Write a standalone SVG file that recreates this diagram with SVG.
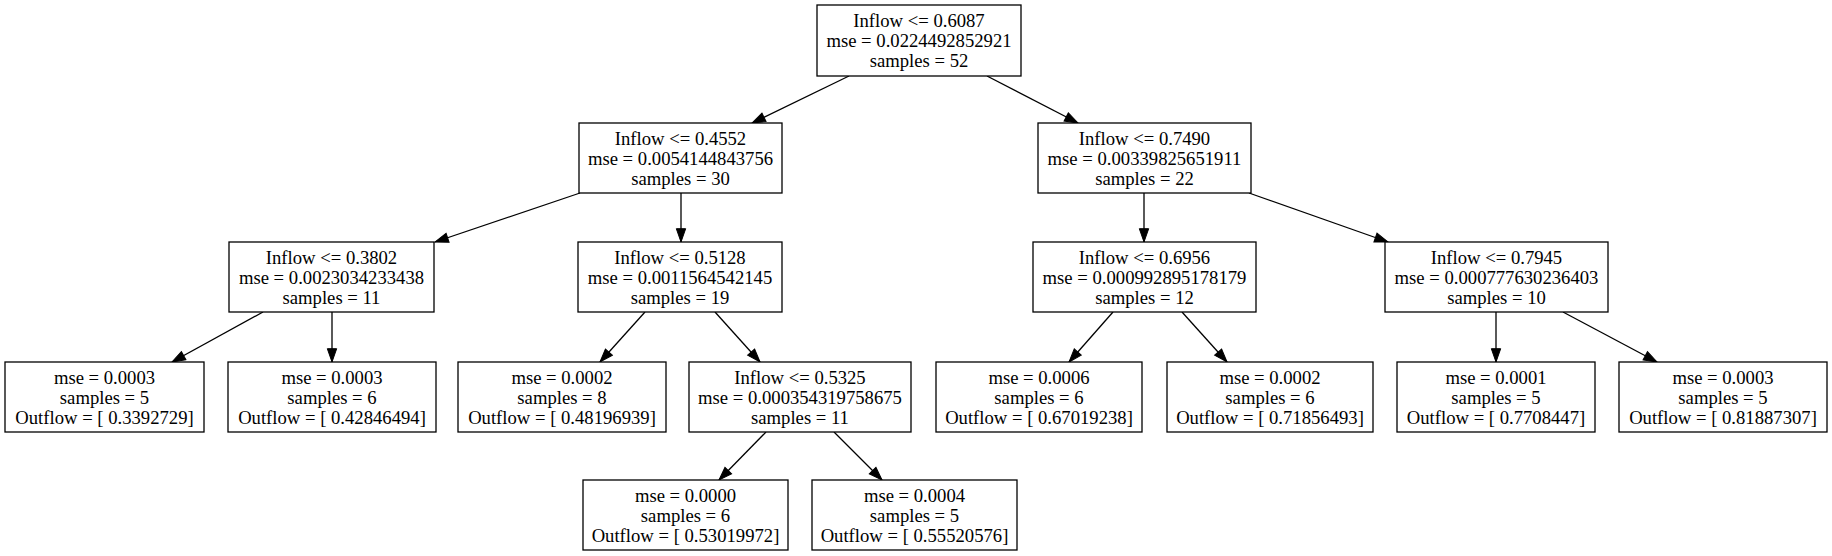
<svg xmlns="http://www.w3.org/2000/svg" width="1832" height="556" viewBox="0 0 1832 556">
<style>
.n rect{fill:#fff;stroke:#000;stroke-width:1.3}
.n text{font-family:"Liberation Serif","Times New Roman",serif;font-size:18.67px;text-anchor:middle;fill:#000}
.e line{stroke:#000;stroke-width:1.3}
</style>
<defs>
<marker id="ah" markerWidth="14" markerHeight="10" refX="13.3" refY="5" orient="auto" markerUnits="userSpaceOnUse" overflow="visible">
<path d="M0,0.33 L13.3,5 L0,9.67 z" fill="#000" stroke="#000" stroke-width="1"/>
</marker>
</defs>
<rect width="1832" height="556" fill="#fff"/>
<g id="edges" class="e">
<line x1="849" y1="76" x2="752" y2="123" marker-end="url(#ah)"/>
<line x1="987" y1="76" x2="1078" y2="123" marker-end="url(#ah)"/>
<line x1="580" y1="193" x2="435" y2="242" marker-end="url(#ah)"/>
<line x1="681" y1="193" x2="681" y2="242" marker-end="url(#ah)"/>
<line x1="1144" y1="193" x2="1144" y2="242" marker-end="url(#ah)"/>
<line x1="1249" y1="193" x2="1388" y2="242" marker-end="url(#ah)"/>
<line x1="263" y1="312" x2="172" y2="362" marker-end="url(#ah)"/>
<line x1="332" y1="312" x2="332" y2="362" marker-end="url(#ah)"/>
<line x1="645" y1="312" x2="600" y2="362" marker-end="url(#ah)"/>
<line x1="715" y1="312" x2="760" y2="362" marker-end="url(#ah)"/>
<line x1="766" y1="432" x2="719" y2="480" marker-end="url(#ah)"/>
<line x1="834" y1="432" x2="882" y2="480" marker-end="url(#ah)"/>
<line x1="1113" y1="312" x2="1069" y2="362" marker-end="url(#ah)"/>
<line x1="1182" y1="312" x2="1227" y2="362" marker-end="url(#ah)"/>
<line x1="1496" y1="312" x2="1496" y2="362" marker-end="url(#ah)"/>
<line x1="1563" y1="312" x2="1657" y2="362" marker-end="url(#ah)"/>
</g>
<g id="n0" class="n"><rect x="817" y="5" width="204" height="71"/>
<text x="919" y="27">Inflow &lt;= 0.6087</text><text x="919" y="47">mse = 0.0224492852921</text><text x="919" y="67">samples = 52</text></g>
<g id="n1" class="n"><rect x="579" y="123" width="203" height="70"/>
<text x="680.5" y="145">Inflow &lt;= 0.4552</text><text x="680.5" y="165">mse = 0.0054144843756</text><text x="680.5" y="185">samples = 30</text></g>
<g id="n2" class="n"><rect x="1038" y="123" width="213" height="70"/>
<text x="1144.5" y="145">Inflow &lt;= 0.7490</text><text x="1144.5" y="165">mse = 0.00339825651911</text><text x="1144.5" y="185">samples = 22</text></g>
<g id="n3" class="n"><rect x="229" y="242" width="205" height="70"/>
<text x="331.5" y="264">Inflow &lt;= 0.3802</text><text x="331.5" y="284">mse = 0.0023034233438</text><text x="331.5" y="304">samples = 11</text></g>
<g id="n4" class="n"><rect x="578" y="242" width="204" height="70"/>
<text x="680" y="264">Inflow &lt;= 0.5128</text><text x="680" y="284">mse = 0.0011564542145</text><text x="680" y="304">samples = 19</text></g>
<g id="n5" class="n"><rect x="1033" y="242" width="223" height="70"/>
<text x="1144.5" y="264">Inflow &lt;= 0.6956</text><text x="1144.5" y="284">mse = 0.000992895178179</text><text x="1144.5" y="304">samples = 12</text></g>
<g id="n6" class="n"><rect x="1385" y="242" width="223" height="70"/>
<text x="1496.5" y="264">Inflow &lt;= 0.7945</text><text x="1496.5" y="284">mse = 0.000777630236403</text><text x="1496.5" y="304">samples = 10</text></g>
<g id="n7" class="n"><rect x="5" y="362" width="199" height="70"/>
<text x="104.5" y="384">mse = 0.0003</text><text x="104.5" y="404">samples = 5</text><text x="104.5" y="424">Outflow = [ 0.3392729]</text></g>
<g id="n8" class="n"><rect x="228" y="362" width="208" height="70"/>
<text x="332" y="384">mse = 0.0003</text><text x="332" y="404">samples = 6</text><text x="332" y="424">Outflow = [ 0.42846494]</text></g>
<g id="n9" class="n"><rect x="458" y="362" width="208" height="70"/>
<text x="562" y="384">mse = 0.0002</text><text x="562" y="404">samples = 8</text><text x="562" y="424">Outflow = [ 0.48196939]</text></g>
<g id="n10" class="n"><rect x="689" y="362" width="222" height="70"/>
<text x="800" y="384">Inflow &lt;= 0.5325</text><text x="800" y="404">mse = 0.000354319758675</text><text x="800" y="424">samples = 11</text></g>
<g id="n11" class="n"><rect x="936" y="362" width="206" height="70"/>
<text x="1039" y="384">mse = 0.0006</text><text x="1039" y="404">samples = 6</text><text x="1039" y="424">Outflow = [ 0.67019238]</text></g>
<g id="n12" class="n"><rect x="1167" y="362" width="206" height="70"/>
<text x="1270" y="384">mse = 0.0002</text><text x="1270" y="404">samples = 6</text><text x="1270" y="424">Outflow = [ 0.71856493]</text></g>
<g id="n13" class="n"><rect x="1397" y="362" width="198" height="70"/>
<text x="1496" y="384">mse = 0.0001</text><text x="1496" y="404">samples = 5</text><text x="1496" y="424">Outflow = [ 0.7708447]</text></g>
<g id="n14" class="n"><rect x="1619" y="362" width="208" height="70"/>
<text x="1723" y="384">mse = 0.0003</text><text x="1723" y="404">samples = 5</text><text x="1723" y="424">Outflow = [ 0.81887307]</text></g>
<g id="n15" class="n"><rect x="583" y="480" width="205" height="70"/>
<text x="685.5" y="502">mse = 0.0000</text><text x="685.5" y="522">samples = 6</text><text x="685.5" y="542">Outflow = [ 0.53019972]</text></g>
<g id="n16" class="n"><rect x="812" y="480" width="205" height="70"/>
<text x="914.5" y="502">mse = 0.0004</text><text x="914.5" y="522">samples = 5</text><text x="914.5" y="542">Outflow = [ 0.55520576]</text></g>
</svg>
